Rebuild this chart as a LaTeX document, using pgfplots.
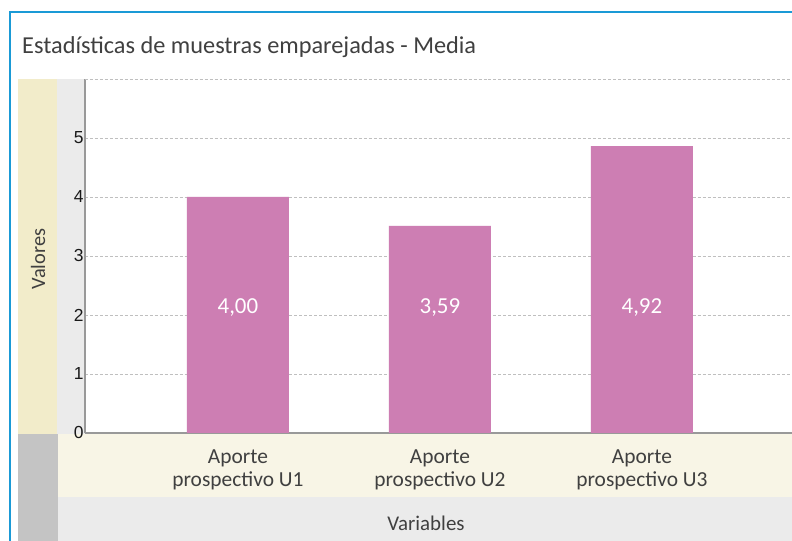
\documentclass[border=0pt]{standalone}
\usepackage{pgfplots}
\pgfplotsset{compat=1.18}
\usepackage{fontspec}
\setmainfont{Carlito}
\newfontfamily\arialfont{Liberation Sans}
\definecolor{barcol}{HTML}{CD7EB3}
\definecolor{beige}{HTML}{F2ECCA}
\definecolor{lbeige}{HTML}{F8F5E6}
\definecolor{lgray}{HTML}{EBEBEB}
\definecolor{mgray}{HTML}{C4C4C4}
\definecolor{bluel}{HTML}{1A9AD6}
\definecolor{tcol}{HTML}{404040}
\begin{document}
\begin{tikzpicture}[x=1bp,y=1bp]
\path[use as bounding box, fill=white] (0,0) rectangle (792,541);
\fill[beige] (18,107) rectangle (57,462);
\fill[lgray] (57,107) rectangle (85,462);
\fill[mgray] (18,0) rectangle (58,107);
\fill[lbeige] (58,44) rectangle (792,107);
\fill[lgray] (58,0) rectangle (792,44);
\draw[bluel, line width=2bp] (9.5,0) -- (9.5,528.5) -- (792,528.5);
\node[anchor=base west, inner sep=0pt, text=tcol, font=\fontsize{24.4}{28}\selectfont] at (22,487) {Estadísticas de muestras emparejadas - Media};
\node[rotate=90, inner sep=0pt, text=tcol, font=\fontsize{20.5}{24}\selectfont] at (38,282) {Valores};
\node[inner sep=0pt, text=tcol, font=\fontsize{21}{24}\selectfont] at (426,18) {Variables};
\begin{axis}[
  at={(85bp,108bp)}, anchor=south west,
  width=707bp, height=354bp, scale only axis,
  xmin=-0.757, xmax=2.743, ymin=0, ymax=6,
  axis x line*=bottom, axis y line*=left,
  axis line style={draw=black!40, line width=1.5bp, -},
  ytick={0,1,2,3,4,5}, xtick={0,1,2},
  xticklabels={Aporte\\prospectivo U1, Aporte\\prospectivo U2, Aporte\\prospectivo U3},
  xticklabel style={align=center, text=tcol, font=\fontsize{21.5}{23.5}\selectfont, yshift=-13bp},
  yticklabel style={text=black!90, font=\arialfont\fontsize{17.5}{19}\selectfont, xshift=2bp},
  /pgf/number format/assume math mode=true,
  major tick length=0pt,
  ymajorgrids, major grid style={densely dashed, black!25, line width=0.6bp},
  extra y ticks={6}, extra y tick labels={},
  extra y tick style={grid style={densely dotted, black!45, line width=1.5bp}},
  clip=false,
]
\addplot[ybar, bar width=102bp, fill=barcol, draw=none] coordinates {(0,4.00) (1,3.51) (2,4.86)};
\addplot[draw=none, mark=none, nodes near coords, point meta=explicit symbolic,
  every node near coord/.style={anchor=center, text=white, font=\fontsize{23}{26}\selectfont}]
  coordinates {(0,2.12) [4,00] (1,2.12) [3,59] (2,2.12) [4,92]};
\end{axis}
\end{tikzpicture}
\end{document}
